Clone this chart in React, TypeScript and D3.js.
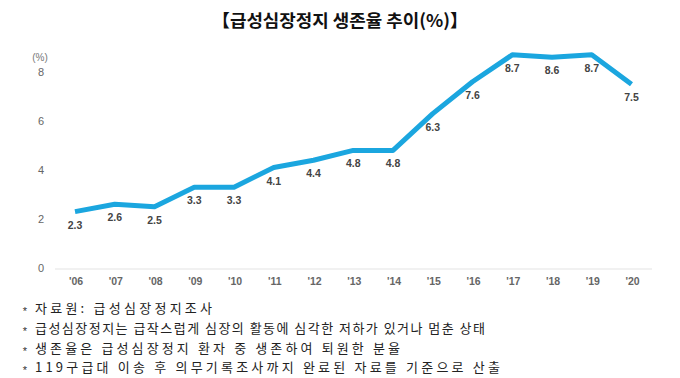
import React from "react";
import * as d3 from "d3";

const years = ["'06","'07","'08","'09","'10","'11","'12","'13","'14","'15","'16","'17","'18","'19","'20"];
const rates = [2.3, 2.6, 2.5, 3.3, 3.3, 4.1, 4.4, 4.8, 4.8, 6.3, 7.6, 8.7, 8.6, 8.7, 7.5];
const yTicks = [0, 2, 4, 6, 8];
const title = "【급성심장정지 생존율 추이(%)】";
const notes = [
  "자료원: 급성심장정지조사",
  "급성심장정지는 급작스럽게 심장의 활동에 심각한 저하가 있거나 멈춘 상태",
  "생존율은 급성심장정지 환자 중 생존하여 퇴원한 분율",
  "119구급대 이송 후 의무기록조사까지 완료된 자료를 기준으로 산출",
];
const noteWidths = [177, 450, 365, 465];

const W = 680, H = 378;
const FONT = "'Noto Sans CJK KR', 'Noto Sans', sans-serif";

export default function App() {
  const x = d3.scalePoint<string>().domain(years).range([75, 631.5]);
  const y = d3.scaleLinear().domain([0, 8]).range([268, 72]);
  const line = d3.line<number>().x((_, i) => x(years[i])!).y((d) => y(d)).curve(d3.curveLinear);

  return (
    <svg width={W} height={H} style={{ position: "absolute", left: 0, top: 0, background: "#fff" }} fontFamily={FONT}>
      <rect width={W} height={H} fill="#fff" />
      <text x={340} y={27} textAnchor="middle" fontSize={17.5} fontWeight={700} fill="#111" textLength={256} lengthAdjust="spacingAndGlyphs">{title}</text>
      <text x={40} y={61} textAnchor="middle" fontSize={10} fill="#777" fontFamily="Arial, 'Liberation Sans', sans-serif">(%)</text>
      {yTicks.map((t) => (
        <text key={t} x={44} y={y(t) + 4} textAnchor="end" fontSize={11} fill="#666" fontFamily="Arial, 'Liberation Sans', sans-serif">{t}</text>
      ))}
      <line x1={55} x2={652} y1={269} y2={269} stroke="#ececec" strokeWidth={1.5} />
      {years.map((yr) => (
        <text key={yr} x={x(yr)! + 1} y={285} textAnchor="middle" fontSize={10.5} fontWeight={700} fill="#666" fontFamily="Arial, 'Liberation Sans', sans-serif">{yr}</text>
      ))}
      <path d={line(rates) || ""} fill="none" stroke="#1ba6df" strokeWidth={5} strokeLinejoin="round" strokeLinecap="butt" />
      {rates.map((v, i) => (
        <text key={i} x={x(years[i])!} y={y(v) + 17} textAnchor="middle" fontSize={10.5} fontWeight={700} fill="#444" fontFamily="Arial, 'Liberation Sans', sans-serif">{v.toFixed(1)}</text>
      ))}
      {notes.map((n, i) => (
        <g key={i}>
          <text x={25} y={315 + i * 19.8} textAnchor="middle" fontSize={11} fill="#333" fontFamily="'Liberation Sans', Arial, sans-serif">*</text>
          <text x={35} y={313 + i * 19.8} fontSize={13} fill="#222" textLength={noteWidths[i]} lengthAdjust="spacing">{n}</text>
        </g>
      ))}
    </svg>
  );
}
